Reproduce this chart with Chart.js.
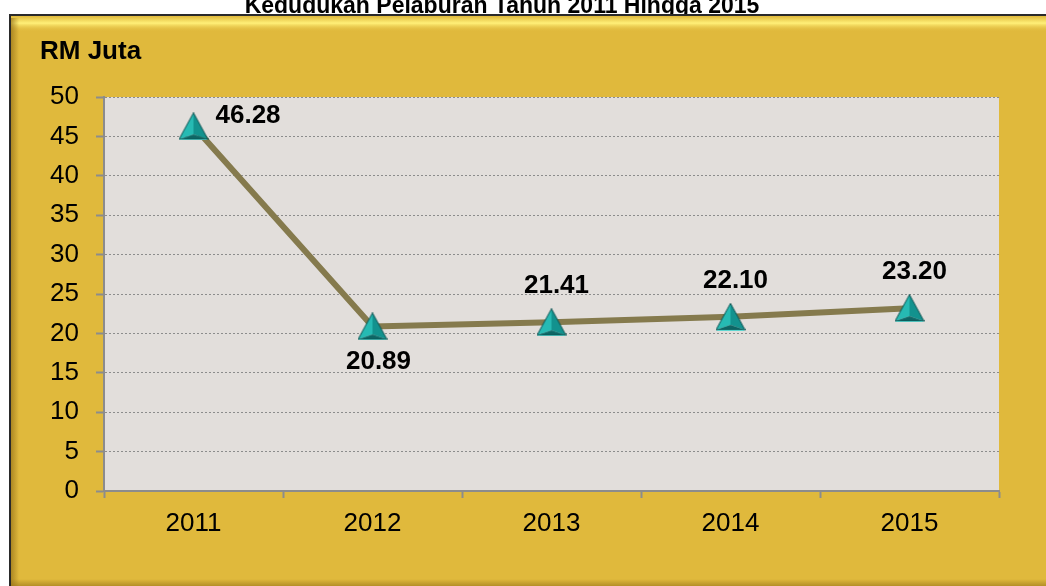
<!DOCTYPE html>
<html>
<head>
<meta charset="utf-8">
<script src="https://cdn.jsdelivr.net/npm/chart.js@4"></script>
<style>
  html, body { margin: 0; padding: 0; background: #fff; }
  #wrap { width: 1046px; height: 586px; }
</style>
</head>
<body>
<div id="wrap"><canvas id="graphicLine" width="1046" height="586"></canvas></div>
<script>
const title = "Kedudukan Pelaburan Tahun 2011 Hingga 2015";
const unitLabel = "RM Juta";
const years = ["2011", "2012", "2013", "2014", "2015"];
const amounts = [46.28, 20.89, 21.41, 22.10, 23.20];
const labelSide = ["right", "below", "above", "above", "above"];

const FONT = "'Liberation Sans', Arial, sans-serif";

// 3D looking triangle marker
function makeMarker() {
    const w = 30, h = 28;
    const c = document.createElement("canvas");
    c.width = w; c.height = h;
    const g = c.getContext("2d");
    const top = [w / 2, 0.5], bl = [0.5, h - 1], br = [w - 0.5, h - 1], mid = [w / 2, h - 6];
    const face = (pts, col) => {
        g.beginPath();
        g.moveTo(pts[0][0], pts[0][1]);
        for (let i = 1; i < pts.length; i++) g.lineTo(pts[i][0], pts[i][1]);
        g.closePath();
        g.fillStyle = col;
        g.fill();
    };
    face([top, bl, mid], "#26bab3");
    face([top, mid, br], "#12928e");
    face([bl, br, mid], "#0d6665");
    g.strokeStyle = "#0b5352";
    g.lineWidth = 1;
    g.beginPath();
    g.moveTo(top[0], top[1]); g.lineTo(bl[0], bl[1]); g.lineTo(br[0], br[1]); g.closePath();
    g.stroke();
    g.strokeStyle = "#5fd6d0";
    g.beginPath(); g.moveTo(bl[0] + 1, h - 0.5); g.lineTo(br[0] - 1, h - 0.5); g.stroke();
    return c;
}

const framePlugin = {
    id: "frame",
    beforeDraw(chart) {
        const ctx = chart.ctx;
        const W = chart.width, H = chart.height;
        ctx.save();
        ctx.fillStyle = "#ffffff";
        ctx.fillRect(0, 0, W, H);

        ctx.fillStyle = "#000";
        ctx.font = "bold 23px " + FONT;
        ctx.textAlign = "center";
        ctx.textBaseline = "alphabetic";
        ctx.fillText(title, 502, 13);

        // golden box
        ctx.fillStyle = "#e0b93c";
        ctx.fillRect(10, 15, W - 10, H - 15);
        let gr = ctx.createLinearGradient(0, 16, 0, 32);
        gr.addColorStop(0, "rgba(224,185,60,1)");
        gr.addColorStop(0.45, "rgba(255,240,120,1)");
        gr.addColorStop(1, "rgba(224,185,60,0)");
        ctx.fillStyle = gr;
        ctx.fillRect(11, 16, W - 11, 16);
        gr = ctx.createLinearGradient(11, 0, 19, 0);
        gr.addColorStop(0, "rgba(150,115,25,0.7)");
        gr.addColorStop(1, "rgba(150,115,25,0)");
        ctx.fillStyle = gr;
        ctx.fillRect(11, 18, 8, H - 18);
        gr = ctx.createLinearGradient(0, H - 7, 0, H);
        gr.addColorStop(0, "rgba(150,115,25,0)");
        gr.addColorStop(1, "rgba(150,115,25,0.6)");
        ctx.fillStyle = gr;
        ctx.fillRect(11, H - 7, W - 11, 7);
        ctx.strokeStyle = "#2a2a2a";
        ctx.lineWidth = 2;
        ctx.beginPath();
        ctx.moveTo(10, H);
        ctx.lineTo(10, 15);
        ctx.lineTo(W, 15);
        ctx.stroke();

        ctx.fillStyle = "#000";
        ctx.font = "bold 26px " + FONT;
        ctx.textAlign = "left";
        ctx.textBaseline = "middle";
        ctx.fillText(unitLabel, 40, 52);

        const a = chart.chartArea;
        ctx.fillStyle = "#e2dedb";
        ctx.fillRect(a.left, a.top, a.right - a.left, a.bottom - a.top);
        ctx.restore();
    }
};

const valuePlugin = {
    id: "values",
    afterDatasetsDraw(chart) {
        const ctx = chart.ctx;
        const meta = chart.getDatasetMeta(0);
        ctx.save();
        ctx.fillStyle = "#000";
        ctx.font = "bold 26px " + FONT;
        ctx.textBaseline = "middle";
        meta.data.forEach((pt, i) => {
            const txt = amounts[i].toFixed(2);
            const side = labelSide[i];
            if (side === "right") {
                ctx.textAlign = "left";
                ctx.fillText(txt, pt.x + 22, pt.y - 10);
            } else if (side === "below") {
                ctx.textAlign = "center";
                ctx.fillText(txt, pt.x + 6, pt.y + 35);
            } else {
                ctx.textAlign = "center";
                ctx.fillText(txt, pt.x + 5, pt.y - 36);
            }
        });
        ctx.restore();
    }
};

const graphicLine = document.getElementById("graphicLine");

new Chart(graphicLine, {
    type: "line",
    data: {
        labels: years,
        datasets: [
            {
                label: unitLabel,
                data: amounts,
                borderColor: "#857a4d",
                borderWidth: 6,
                tension: 0,
                pointStyle: makeMarker(),
                pointRadius: 14,
                pointHoverRadius: 14,
            },
        ],
    },
    options: {
        responsive: false,
        animation: false,
        events: [],
        layout: { padding: { top: 97, right: 47, left: 0, bottom: 0 } },
        plugins: {
            legend: { display: false },
            tooltip: { enabled: false },
        },
        scales: {
            x: {
                offset: true,
                afterFit(scale) { scale.height = 95; },
                grid: {
                    offset: true,
                    drawOnChartArea: false,
                    tickLength: 7,
                    tickColor: "#8c8c8c",
                    tickWidth: 2,
                },
                border: { color: "#8c8c8c", width: 2 },
                ticks: {
                    color: "#000",
                    padding: 10,
                    font: { family: FONT, size: 26 },
                },
            },
            y: {
                min: 0,
                max: 50,
                afterFit(scale) { scale.width = 104; },
                grid: {
                    color: "#8c8c8c",
                    lineWidth: 1,
                    tickLength: 8,
                    tickColor: "#8c8c8c",
                    tickWidth: 2,
                    tickBorderDash: [],
                },
                border: { color: "#8c8c8c", width: 2, dash: [2, 2] },
                ticks: {
                    stepSize: 5,
                    color: "#000",
                    padding: 17,
                    font: { family: FONT, size: 26 },
                },
            },
        },
    },
    plugins: [framePlugin, valuePlugin],
});
</script>
</body>
</html>
